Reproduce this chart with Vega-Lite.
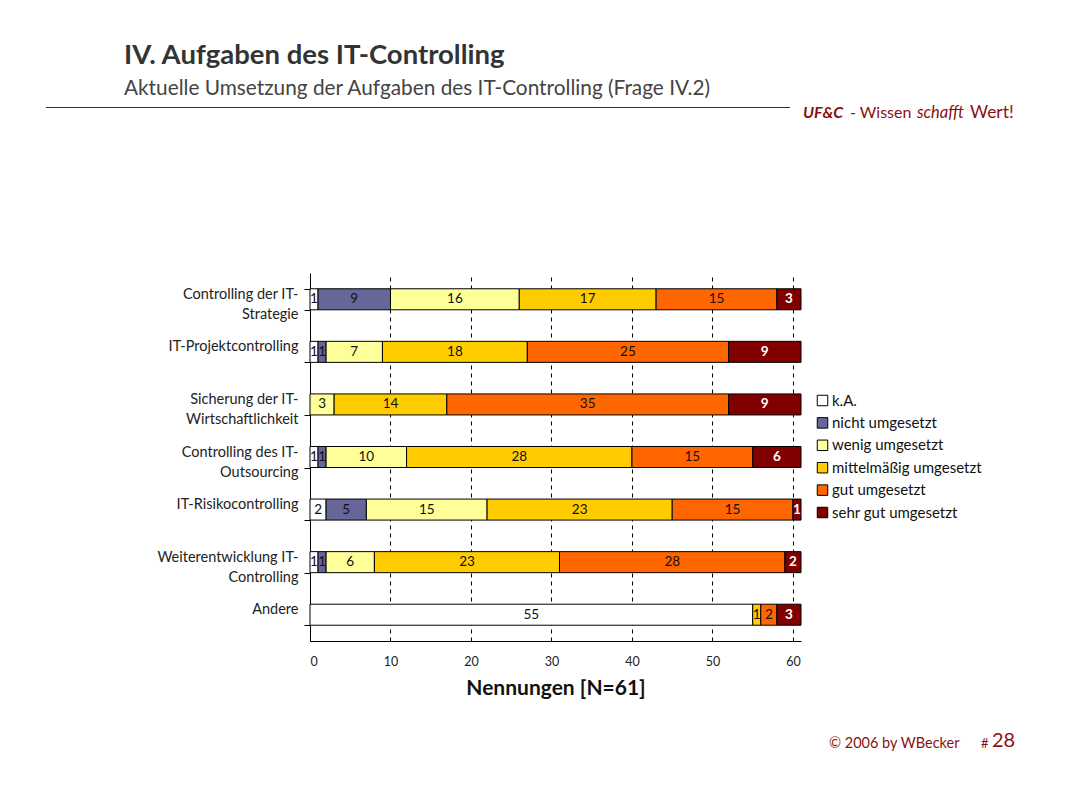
{
  "$schema": "https://vega.github.io/schema/vega-lite/v6.json",
  "width": 491,
  "height": 368,
  "autosize": {"type": "none"},
  "padding": {"left": 310, "top": 273, "right": 290, "bottom": 146},
  "background": "white",
  "config": {"font": "Lato", "view": {"stroke": null}},
  "title": {
    "text": "IV. Aufgaben des IT-Controlling",
    "subtitle": "Aktuelle Umsetzung der Aufgaben des IT-Controlling (Frage IV.2)",
    "anchor": "start",
    "frame": "group",
    "dx": -186,
    "offset": 5,
    "fontSize": 27.5,
    "fontWeight": "bold",
    "color": "#333333",
    "subtitleFontSize": 20.8,
    "subtitleColor": "#444444",
    "subtitlePadding": 10
  },
  "datasets": {
    "umsetzung": [
      {"aufgabe": "Controlling der IT-Strategie", "stufe": "k.A.", "rang": 0, "anzahl": 1},
      {"aufgabe": "Controlling der IT-Strategie", "stufe": "nicht umgesetzt", "rang": 1, "anzahl": 9},
      {"aufgabe": "Controlling der IT-Strategie", "stufe": "wenig umgesetzt", "rang": 2, "anzahl": 16},
      {"aufgabe": "Controlling der IT-Strategie", "stufe": "mittelmäßig umgesetzt", "rang": 3, "anzahl": 17},
      {"aufgabe": "Controlling der IT-Strategie", "stufe": "gut umgesetzt", "rang": 4, "anzahl": 15},
      {"aufgabe": "Controlling der IT-Strategie", "stufe": "sehr gut umgesetzt", "rang": 5, "anzahl": 3},
      {"aufgabe": "IT-Projektcontrolling", "stufe": "k.A.", "rang": 0, "anzahl": 1},
      {"aufgabe": "IT-Projektcontrolling", "stufe": "nicht umgesetzt", "rang": 1, "anzahl": 1},
      {"aufgabe": "IT-Projektcontrolling", "stufe": "wenig umgesetzt", "rang": 2, "anzahl": 7},
      {"aufgabe": "IT-Projektcontrolling", "stufe": "mittelmäßig umgesetzt", "rang": 3, "anzahl": 18},
      {"aufgabe": "IT-Projektcontrolling", "stufe": "gut umgesetzt", "rang": 4, "anzahl": 25},
      {"aufgabe": "IT-Projektcontrolling", "stufe": "sehr gut umgesetzt", "rang": 5, "anzahl": 9},
      {"aufgabe": "Sicherung der IT-Wirtschaftlichkeit", "stufe": "wenig umgesetzt", "rang": 2, "anzahl": 3},
      {"aufgabe": "Sicherung der IT-Wirtschaftlichkeit", "stufe": "mittelmäßig umgesetzt", "rang": 3, "anzahl": 14},
      {"aufgabe": "Sicherung der IT-Wirtschaftlichkeit", "stufe": "gut umgesetzt", "rang": 4, "anzahl": 35},
      {"aufgabe": "Sicherung der IT-Wirtschaftlichkeit", "stufe": "sehr gut umgesetzt", "rang": 5, "anzahl": 9},
      {"aufgabe": "Controlling des IT-Outsourcing", "stufe": "k.A.", "rang": 0, "anzahl": 1},
      {"aufgabe": "Controlling des IT-Outsourcing", "stufe": "nicht umgesetzt", "rang": 1, "anzahl": 1},
      {"aufgabe": "Controlling des IT-Outsourcing", "stufe": "wenig umgesetzt", "rang": 2, "anzahl": 10},
      {"aufgabe": "Controlling des IT-Outsourcing", "stufe": "mittelmäßig umgesetzt", "rang": 3, "anzahl": 28},
      {"aufgabe": "Controlling des IT-Outsourcing", "stufe": "gut umgesetzt", "rang": 4, "anzahl": 15},
      {"aufgabe": "Controlling des IT-Outsourcing", "stufe": "sehr gut umgesetzt", "rang": 5, "anzahl": 6},
      {"aufgabe": "IT-Risikocontrolling", "stufe": "k.A.", "rang": 0, "anzahl": 2},
      {"aufgabe": "IT-Risikocontrolling", "stufe": "nicht umgesetzt", "rang": 1, "anzahl": 5},
      {"aufgabe": "IT-Risikocontrolling", "stufe": "wenig umgesetzt", "rang": 2, "anzahl": 15},
      {"aufgabe": "IT-Risikocontrolling", "stufe": "mittelmäßig umgesetzt", "rang": 3, "anzahl": 23},
      {"aufgabe": "IT-Risikocontrolling", "stufe": "gut umgesetzt", "rang": 4, "anzahl": 15},
      {"aufgabe": "IT-Risikocontrolling", "stufe": "sehr gut umgesetzt", "rang": 5, "anzahl": 1},
      {"aufgabe": "Weiterentwicklung IT-Controlling", "stufe": "k.A.", "rang": 0, "anzahl": 1},
      {"aufgabe": "Weiterentwicklung IT-Controlling", "stufe": "nicht umgesetzt", "rang": 1, "anzahl": 1},
      {"aufgabe": "Weiterentwicklung IT-Controlling", "stufe": "wenig umgesetzt", "rang": 2, "anzahl": 6},
      {"aufgabe": "Weiterentwicklung IT-Controlling", "stufe": "mittelmäßig umgesetzt", "rang": 3, "anzahl": 23},
      {"aufgabe": "Weiterentwicklung IT-Controlling", "stufe": "gut umgesetzt", "rang": 4, "anzahl": 28},
      {"aufgabe": "Weiterentwicklung IT-Controlling", "stufe": "sehr gut umgesetzt", "rang": 5, "anzahl": 2},
      {"aufgabe": "Andere", "stufe": "k.A.", "rang": 0, "anzahl": 55},
      {"aufgabe": "Andere", "stufe": "mittelmäßig umgesetzt", "rang": 3, "anzahl": 1},
      {"aufgabe": "Andere", "stufe": "gut umgesetzt", "rang": 4, "anzahl": 2},
      {"aufgabe": "Andere", "stufe": "sehr gut umgesetzt", "rang": 5, "anzahl": 3}
    ]
  },
  "layer": [
    {
      "data": {"name": "umsetzung"},
      "mark": {"type": "bar", "stroke": "black", "strokeWidth": 1},
      "encoding": {
        "y": {
          "field": "aufgabe", "type": "nominal",
          "sort": ["Controlling der IT-Strategie", "IT-Projektcontrolling", "Sicherung der IT-Wirtschaftlichkeit", "Controlling des IT-Outsourcing", "IT-Risikocontrolling", "Weiterentwicklung IT-Controlling", "Andere"],
          "scale": {"paddingInner": 0.6, "paddingOuter": 0.3},
          "axis": {
            "title": null, "domainColor": "black", "tickColor": "black", "tickSize": 6, "tickBand": "extent",
            "labelFontSize": 14.5, "labelColor": "#222222", "labelPadding": 6, "labelLineHeight": 20, "labelLimit": 250,
            "labelOffset": -5,
            "labelExpr": "split(replace(datum.label, ' IT-', ' IT-|'), '|')"
          }
        },
        "x": {
          "field": "anzahl", "type": "quantitative", "stack": "zero",
          "scale": {"domain": [0, 61], "nice": false},
          "axis": {
            "title": "Nennungen [N=61]", "titleFontSize": 21, "titleFontWeight": "bold", "titleColor": "#111111", "titlePadding": 10,
            "values": [0, 10, 20, 30, 40, 50, 60], "grid": true, "gridColor": "black", "gridDash": [4, 4], "gridWidth": 1,
            "ticks": false, "domainColor": "black", "labelFontSize": 12.5, "labelPadding": 14, "labelColor": "#222222"
          }
        },
        "color": {
          "field": "stufe", "type": "nominal",
          "scale": {
            "domain": ["k.A.", "nicht umgesetzt", "wenig umgesetzt", "mittelmäßig umgesetzt", "gut umgesetzt", "sehr gut umgesetzt"],
            "range": ["#FFFFFF", "#666699", "#FFFF99", "#FFCC00", "#FF6600", "#800000"]
          },
          "legend": {
            "orient": "none", "legendX": 505, "legendY": 120, "title": null, "padding": 0,
            "symbolType": "square", "symbolSize": 110, "symbolStrokeColor": "black", "symbolStrokeWidth": 1, "symbolOpacity": 1,
            "labelFontSize": 15, "labelColor": "#111111", "rowPadding": 6.4, "labelOffset": 2
          }
        },
        "order": {"field": "rang", "type": "quantitative"}
      }
    },
    {
      "data": {"name": "umsetzung"},
      "mark": {"type": "text", "fontSize": 13.5, "baseline": "middle"},
      "encoding": {
        "y": {"field": "aufgabe", "type": "nominal", "sort": ["Controlling der IT-Strategie", "IT-Projektcontrolling", "Sicherung der IT-Wirtschaftlichkeit", "Controlling des IT-Outsourcing", "IT-Risikocontrolling", "Weiterentwicklung IT-Controlling", "Andere"]},
        "x": {"field": "anzahl", "type": "quantitative", "stack": "zero", "bandPosition": 0.5},
        "text": {"field": "anzahl", "type": "quantitative"},
        "order": {"field": "rang", "type": "quantitative"},
        "color": {"condition": {"test": "datum.stufe === 'sehr gut umgesetzt'", "value": "transparent"}, "value": "#111111"}
      }
    },
    {
      "data": {"name": "umsetzung"},
      "mark": {"type": "text", "fontSize": 13.5, "fontWeight": "bold", "baseline": "middle"},
      "encoding": {
        "y": {"field": "aufgabe", "type": "nominal", "sort": ["Controlling der IT-Strategie", "IT-Projektcontrolling", "Sicherung der IT-Wirtschaftlichkeit", "Controlling des IT-Outsourcing", "IT-Risikocontrolling", "Weiterentwicklung IT-Controlling", "Andere"]},
        "x": {"field": "anzahl", "type": "quantitative", "stack": "zero", "bandPosition": 0.5},
        "text": {"field": "anzahl", "type": "quantitative"},
        "order": {"field": "rang", "type": "quantitative"},
        "color": {"condition": {"test": "datum.stufe === 'sehr gut umgesetzt'", "value": "white"}, "value": "transparent"}
      }
    },
    {
      "data": {"values": [{}]},
      "mark": {"type": "rect", "x": -264, "x2": 480, "y": -166, "y2": -165, "fill": "#7b1113", "color": "#7b1113", "stroke": null},
      "encoding": {}
    },
    {
      "data": {"values": [{}]},
      "mark": {"type": "text", "text": "UF&C", "x": 493, "y": -155, "align": "left", "baseline": "alphabetic", "fontSize": 16, "fontWeight": "bold", "fontStyle": "italic", "color": "#8B1010"},
      "encoding": {}
    },
    {
      "data": {"values": [{}]},
      "mark": {"type": "text", "text": "- Wissen", "x": 540, "y": -155, "align": "left", "baseline": "alphabetic", "fontSize": 16, "color": "#8B1010"},
      "encoding": {}
    },
    {
      "data": {"values": [{}]},
      "mark": {"type": "text", "text": "schafft", "x": 607, "y": -155, "align": "left", "baseline": "alphabetic", "fontSize": 16.5, "fontStyle": "italic", "color": "#8B1010"},
      "encoding": {}
    },
    {
      "data": {"values": [{}]},
      "mark": {"type": "text", "text": "Wert!", "x": 660, "y": -155, "align": "left", "baseline": "alphabetic", "fontSize": 17.5, "color": "#8B1010"},
      "encoding": {}
    },
    {
      "data": {"values": [{}]},
      "mark": {"type": "text", "text": "© 2006 by WBecker", "x": 519, "y": 475, "align": "left", "baseline": "alphabetic", "fontSize": 14.5, "color": "#8B1010"},
      "encoding": {}
    },
    {
      "data": {"values": [{}]},
      "mark": {"type": "text", "text": "#", "x": 671, "y": 475, "align": "left", "baseline": "alphabetic", "fontSize": 13, "color": "#8B1010"},
      "encoding": {}
    },
    {
      "data": {"values": [{}]},
      "mark": {"type": "text", "text": "28", "x": 682, "y": 474, "align": "left", "baseline": "alphabetic", "fontSize": 20, "color": "#8B1010"},
      "encoding": {}
    }
  ]
}
